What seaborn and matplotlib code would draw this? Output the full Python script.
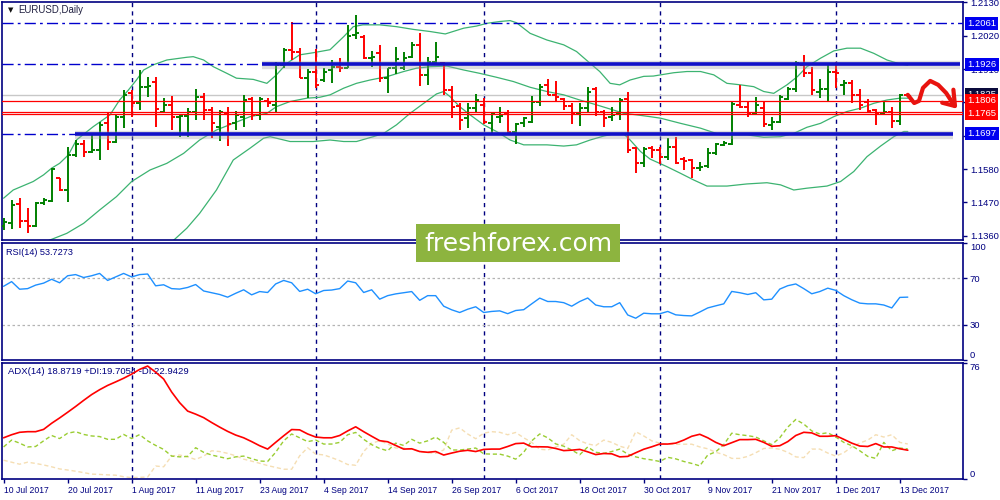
import numpy as np
import pandas as pd
import seaborn as sns
import matplotlib.pyplot as plt
from matplotlib import transforms

sns.set_style("white")
plt.rcParams['font.family'] = ['Liberation Sans', 'DejaVu Sans']

# daily EURUSD bars, 10 Jul 2017 .. 14 Dec 2017
opens = [1.1392, 1.1403, 1.1465, 1.1410, 1.1392, 1.1467, 1.1476, 1.1550, 1.1511, 1.1627,
         1.1663, 1.1638, 1.1643, 1.1731, 1.1671, 1.1753, 1.1830, 1.1797, 1.1850, 1.1869,
         1.1770, 1.1792, 1.1753, 1.1755, 1.1770, 1.1819, 1.1775, 1.1720, 1.1764, 1.1731,
         1.1753, 1.1810, 1.1758, 1.1806, 1.1792, 1.1923, 1.1973, 1.1967, 1.1880, 1.1902,
         1.1874, 1.1907, 1.1918, 1.1913, 1.2022, 1.2017, 1.1946, 1.1962, 1.1880, 1.1912,
         1.1912, 1.1949, 1.1990, 1.1890, 1.1934, 1.1931, 1.1841, 1.1788, 1.1748, 1.1780,
         1.1792, 1.1731, 1.1753, 1.1764, 1.1703, 1.1731, 1.1736, 1.1802, 1.1857, 1.1825,
         1.1810, 1.1788, 1.1764, 1.1780, 1.1843, 1.1769, 1.1752, 1.1764, 1.1810, 1.1648,
         1.1601, 1.1648, 1.1643, 1.1619, 1.1654, 1.1612, 1.1610, 1.1583, 1.1590, 1.1632,
         1.1660, 1.1663, 1.1792, 1.1786, 1.1766, 1.1781, 1.1726, 1.1737, 1.1810, 1.1843,
         1.1924, 1.1896, 1.1836, 1.1843, 1.1902, 1.1858, 1.1863, 1.1825, 1.1800, 1.1774,
         1.1762, 1.1770, 1.1740, 1.1826]
highs = [1.1418, 1.1478, 1.1484, 1.1451, 1.1473, 1.1484, 1.1583, 1.1552, 1.1654, 1.1676,
         1.1676, 1.1698, 1.1737, 1.1770, 1.1759, 1.1841, 1.1841, 1.1907, 1.1885, 1.1885,
         1.1814, 1.1821, 1.1759, 1.1781, 1.1843, 1.1832, 1.1786, 1.1775, 1.1784, 1.1772,
         1.1824, 1.1819, 1.1817, 1.1813, 1.1934, 1.1978, 1.2066, 1.1978, 1.1909, 1.1975,
         1.1912, 1.1940, 1.1945, 1.2055, 1.2088, 1.2022, 1.1971, 1.1989, 1.1912, 1.1982,
         1.1968, 1.2000, 1.2028, 1.1949, 1.1998, 1.1934, 1.1854, 1.1797, 1.1799, 1.1827,
         1.1813, 1.1766, 1.1784, 1.1775, 1.1733, 1.1753, 1.1821, 1.1861, 1.1876, 1.1872,
         1.1813, 1.1797, 1.1799, 1.1852, 1.1852, 1.1775, 1.1786, 1.1813, 1.1835, 1.1654,
         1.1652, 1.1656, 1.1654, 1.1681, 1.1685, 1.1619, 1.1612, 1.1605, 1.1649, 1.1665,
         1.1674, 1.1803, 1.1858, 1.1803, 1.1817, 1.1806, 1.1753, 1.1825, 1.1852, 1.1938,
         1.1957, 1.1918, 1.1876, 1.1924, 1.1935, 1.1874, 1.1874, 1.1843, 1.1810, 1.1777,
         1.1806, 1.1786, 1.1828, 1.1828]
lows = [1.1379, 1.1381, 1.1385, 1.1368, 1.1388, 1.1462, 1.1470, 1.1509, 1.1473, 1.1621,
        1.1621, 1.1632, 1.1610, 1.1643, 1.1665, 1.1715, 1.1753, 1.1775, 1.1819, 1.1720,
        1.1764, 1.1709, 1.1687, 1.1687, 1.1742, 1.1742, 1.1682, 1.1674, 1.1656, 1.1709,
        1.1720, 1.1742, 1.1742, 1.1786, 1.1766, 1.1912, 1.1940, 1.1879, 1.1813, 1.1846,
        1.1868, 1.1863, 1.1902, 1.1912, 1.2008, 1.1942, 1.1918, 1.1868, 1.1832, 1.1894,
        1.1907, 1.1946, 1.1854, 1.1858, 1.1929, 1.1825, 1.1748, 1.1709, 1.1715, 1.1770,
        1.1730, 1.1692, 1.1731, 1.1700, 1.1663, 1.1720, 1.1731, 1.1788, 1.1825, 1.1802,
        1.1775, 1.1729, 1.1722, 1.1764, 1.1755, 1.1720, 1.1740, 1.1742, 1.1634, 1.1568,
        1.1588, 1.1615, 1.1597, 1.1610, 1.1597, 1.1577, 1.1550, 1.1575, 1.1583, 1.1627,
        1.1656, 1.1660, 1.1781, 1.1751, 1.1762, 1.1720, 1.1709, 1.1731, 1.1808, 1.1836,
        1.1885, 1.1825, 1.1814, 1.1803, 1.1847, 1.1825, 1.1797, 1.1775, 1.1770, 1.1726,
        1.1758, 1.1715, 1.1726, 1.1820]
closes = [1.1405, 1.1462, 1.1409, 1.1392, 1.1467, 1.1478, 1.1579, 1.1511, 1.1627, 1.1663,
          1.1638, 1.1643, 1.1726, 1.1671, 1.1753, 1.1825, 1.1797, 1.1852, 1.1854, 1.1778,
          1.1792, 1.1753, 1.1755, 1.1770, 1.1819, 1.1775, 1.1731, 1.1770, 1.1730, 1.1758,
          1.1808, 1.1758, 1.1810, 1.1797, 1.1923, 1.1973, 1.1967, 1.1882, 1.1902, 1.1857,
          1.1902, 1.1918, 1.1913, 1.2019, 1.2030, 1.1946, 1.1951, 1.1880, 1.1912, 1.1942,
          1.1946, 1.1990, 1.1890, 1.1934, 1.1950, 1.1841, 1.1786, 1.1742, 1.1780, 1.1808,
          1.1735, 1.1762, 1.1755, 1.1703, 1.1729, 1.1747, 1.1802, 1.1852, 1.1825, 1.1817,
          1.1788, 1.1764, 1.1780, 1.1835, 1.1769, 1.1747, 1.1760, 1.1808, 1.1643, 1.1601,
          1.1647, 1.1643, 1.1619, 1.1652, 1.1601, 1.1607, 1.1583, 1.1588, 1.1632, 1.1663,
          1.1665, 1.1795, 1.1786, 1.1766, 1.1792, 1.1729, 1.1737, 1.1817, 1.1843, 1.1929,
          1.1896, 1.1841, 1.1843, 1.1902, 1.1896, 1.1863, 1.1825, 1.1792, 1.1772, 1.1765,
          1.1768, 1.1740, 1.1825, 1.1822]

# Bollinger bands (20), sampled along the drawn curves
upper_x = [0, 1.2, 3.7, 5, 6, 7, 8.1, 9.1, 11.2, 13.3, 14.5, 15.6, 16.6, 17.5, 18.7, 20.4,
           22.9, 23.7, 25, 26.2, 27.9, 29.1, 31.2, 32.9, 34.1, 35.4, 37, 38.7, 40.8, 42.5,
           43.7, 44.9, 47, 49.1, 51.2, 53.3, 55.2, 57.5, 59.1, 60.4, 62, 63.3, 64.1, 65.8,
           67.9, 70, 71.6, 73.3, 74.5, 75.8, 77, 78.3, 80, 81.2, 83.75, 85.4, 87.1, 88.75,
           90.4, 92.1, 93.75, 95, 96.25, 97.9, 99.2, 100.4, 102.1, 103.75, 105.4, 107.1,
           108.75, 110.4, 112, 113]
upper_y = [1.1484, 1.1511, 1.1539, 1.1561, 1.1583, 1.1599, 1.1627, 1.1676, 1.1720, 1.1759,
           1.1808, 1.1841, 1.1874, 1.1907, 1.1924, 1.1940, 1.1949, 1.1951, 1.1940, 1.1918,
           1.1896, 1.1880, 1.1876, 1.1863, 1.1891, 1.1929, 1.1957, 1.1964, 1.1974, 1.2017,
           1.2050, 1.2056, 1.2056, 1.2050, 1.2041, 1.2034, 1.2026, 1.2045, 1.2052, 1.2061,
           1.2067, 1.2070, 1.2063, 1.2028, 1.2006, 1.1990, 1.1968, 1.1929, 1.1902, 1.1863,
           1.1858, 1.1874, 1.1886, 1.1887, 1.1898, 1.1902, 1.1902, 1.1891, 1.1863, 1.1858,
           1.1852, 1.1836, 1.1830, 1.1858, 1.1885, 1.1918, 1.1946, 1.1970, 1.1979, 1.1979,
           1.1962, 1.1940, 1.1927, 1.1923]
middle_x = [5.6, 7.9, 10, 12, 14.1, 16, 18.3, 20.4, 22.5, 24.5, 26.6, 28.7, 30.8, 32.9, 34.1,
            35.8, 37.9, 39.5, 40.8, 42.5, 44.1, 45.8, 47.9, 50, 51.6, 53.3, 55.4, 57.5, 59.5,
            61.6, 63.7, 65.8, 67.9, 70, 72, 74.1, 76.2, 77.5, 79.1, 80.8, 82.1, 84.6, 87.1,
            89.6, 91.25, 92.9, 95, 97.1, 98.75, 100.4, 102.1, 103.75, 105.4, 107.1, 108.75,
            110.4, 112, 113]
middle_y = [1.1344, 1.1368, 1.1401, 1.1445, 1.1489, 1.1539, 1.1577, 1.1599, 1.1632, 1.1676,
            1.1709, 1.1731, 1.1753, 1.1764, 1.1786, 1.1803, 1.1814, 1.1817, 1.1825, 1.1847,
            1.1863, 1.1874, 1.1885, 1.1902, 1.1913, 1.1918, 1.1920, 1.1907, 1.1896, 1.1883,
            1.1869, 1.1850, 1.1836, 1.1825, 1.1808, 1.1792, 1.1775, 1.1764, 1.1759, 1.1753,
            1.1748, 1.1731, 1.1715, 1.1693, 1.1693, 1.1693, 1.1685, 1.1687, 1.1698, 1.1718,
            1.1731, 1.1753, 1.1770, 1.1781, 1.1797, 1.1808, 1.1814, 1.1814]
lower_x = [21.2, 22.9, 24.5, 26.6, 28.7, 30.8, 32.5, 33.3, 35.8, 38.7, 40.8, 42.5, 44.1, 46.2,
           47.5, 49.1, 50.8, 52.5, 54.1, 55, 55.8, 57, 58.3, 60, 61.6, 63.3, 65, 67.9, 70,
           71.6, 73.3, 75, 76.2, 77.5, 78.3, 79.6, 80.8, 82.9, 84.6, 86.25, 87.9, 90.4, 92.9,
           95.4, 97.1, 98.75, 100.4, 102.9, 104.6, 106.25, 107.9, 109.6, 111.25, 112.5, 113]
lower_y = [1.1344, 1.1385, 1.1434, 1.1511, 1.1610, 1.1649, 1.1682, 1.1687, 1.1671, 1.1671,
           1.1676, 1.1671, 1.1671, 1.1687, 1.1698, 1.1726, 1.1764, 1.1797, 1.1828, 1.1836,
           1.1819, 1.1786, 1.1759, 1.1726, 1.1704, 1.1676, 1.1660, 1.1660, 1.1656, 1.1660,
           1.1676, 1.1689, 1.1696, 1.1696, 1.1676, 1.1638, 1.1613, 1.1588, 1.1566, 1.1544,
           1.1524, 1.1524, 1.1531, 1.1535, 1.1528, 1.1511, 1.1517, 1.1524, 1.1539, 1.1572,
           1.1621, 1.1656, 1.1687, 1.1704, 1.1704]

rsi = [63, 67, 60.5, 61, 64, 65.7, 69, 66, 72, 73,
       70.5, 72, 74, 68, 71, 74, 71, 73, 73.5, 63.4,
       64.3, 61, 60.6, 62, 64.5, 59, 57.5, 56, 53.7, 57,
       60, 55.7, 58.5, 57.7, 65, 68, 66, 58.6, 60.5, 56.6,
       59.4, 59.8, 61, 67.5, 66, 57.7, 60, 52, 55, 56.5,
       57.5, 58.5, 51, 55, 55, 46, 42.9, 40.6, 43.4, 45.5,
       40.6, 41.5, 42, 39.6, 42.3, 43, 48, 52.9, 50, 50,
       49, 46, 50, 53, 47, 45.5, 45.5, 49, 38.5, 35.7,
       40, 39.5, 39.5, 41.5, 38.6, 38, 37.7, 41, 44.5, 46.3,
       48, 58.6, 57.5, 56, 57.5, 51.4, 52, 60.6, 63.5, 65,
       61, 56.6, 58.5, 61.4, 59.5, 55, 51.5, 48.6, 48, 48,
       47, 44.5, 53.5, 53.73]
adx = [27, 29, 30.6, 31, 31, 32.5, 36.5, 40, 43.7, 47.5,
       51.5, 55.3, 58.5, 61.3, 63.6, 66, 68.7, 71.8, 74, 70,
       65.5, 57, 50, 44.5, 42.5, 40.2, 37, 34, 31.2, 28.8,
       27, 24.5, 21.8, 19.6, 24, 28.3, 32.4, 32.2, 29.5, 27.5,
       27, 27, 28.5, 31.5, 34.2, 31, 28, 25.1, 24.4, 22,
       19.6, 19.8, 18, 17.5, 18, 15.7, 17, 18.2, 18.8, 18,
       19.4, 19.6, 19.6, 21.3, 23.2, 23.5, 21.1, 21.1, 21, 20,
       18.6, 18.9, 19.4, 17.8, 16, 16.7, 16.5, 14.5, 14.8, 17.2,
       19.5, 21.1, 22.9, 22.9, 23.5, 25.5, 28, 29.3, 27, 24,
       21.8, 23.8, 25.8, 25.8, 26, 24, 21.4, 21.8, 24.5, 28.5,
       30.6, 30.2, 28, 28, 28.4, 26, 23.5, 21.6, 21.3, 23.2,
       21, 21, 19.8, 18.87]
plus_di = [21, 25.5, 23.5, 21, 21.3, 25, 28.5, 26.5, 30, 31,
           29.2, 28.2, 27.8, 26, 26, 29.2, 26.5, 29.1, 25, 22,
           19.4, 15, 14.5, 14.8, 20.5, 17.5, 15.7, 14.5, 13.3, 14.5,
           15, 13.3, 11.8, 11.5, 17.5, 25, 29.5, 27, 24.5, 25.5,
           22.9, 22.9, 24, 29, 30.5, 26, 22.5, 20, 18.5, 23.5,
           22, 26, 23.5, 25, 27.5, 24, 19, 19, 19.6, 20.3,
           16.5, 16.3, 16.3, 15, 13, 17.5, 25, 29.5, 27, 23,
           21.5, 19, 15.9, 21, 17.5, 16.8, 18, 19.6, 16.3, 14.5,
           13.3, 12.5, 11.5, 14.2, 13.2, 11.5, 10.2, 8.6, 15.7, 17.8,
           22.5, 30, 29, 28.4, 27.5, 25, 22.5, 27, 34, 39,
           36, 31.5, 29.5, 30.3, 27.5, 24, 21.8, 18.5, 14.8, 13.5,
           24, 18.5, 20.3, 19.71]
minus_di = [12.3, 11, 9.7, 11, 10.2, 9.2, 8, 6.6, 5.9, 5.1,
            4.2, 3.2, 3, 2.7, 2.5, 1.5, 0.9, 1.1, 1.3, 8.5,
            8, 15, 15.7, 14.5, 12.8, 15, 18.5, 18, 16.8, 15.2,
            13, 11.7, 10.3, 8.8, 7.6, 6.4, 6.4, 15.2, 20.5, 16.3,
            15.8, 14, 12, 9.5, 9, 18, 23.5, 25, 23, 20.3,
            20.3, 19.5, 18, 17.2, 16.8, 19, 32, 33.5, 29.5, 26.4,
            30, 31, 30.6, 29, 30.5, 27, 24, 19.5, 19, 21,
            22.8, 29, 25.1, 23, 21.9, 25.5, 24, 21.5, 20, 31,
            28.2, 25, 23.5, 22.8, 22.7, 22.8, 22.8, 21, 19.8, 17.5,
            16, 13.5, 13.5, 14.8, 17.2, 20, 20.3, 19.5, 17.5, 14.5,
            14, 19.6, 19.6, 17, 15, 17.2, 21, 23.6, 25.5, 29,
            27.5, 29, 24, 22.94]

date_labels = ['10 Jul 2017', '20 Jul 2017', '1 Aug 2017', '11 Aug 2017', '23 Aug 2017',
               '4 Sep 2017', '14 Sep 2017', '26 Sep 2017', '6 Oct 2017', '18 Oct 2017',
               '30 Oct 2017', '9 Nov 2017', '21 Nov 2017', '1 Dec 2017', '13 Dec 2017']
label_bars = list(range(0, 113, 8))
month_bars = [16, 39, 60, 82, 104]
price_ticks = [1.2130, 1.2020, 1.1910, 1.1800, 1.1690, 1.1580, 1.1470, 1.1360]
# 1.1800 and 1.1690 sit under the level boxes, so only their tick marks show
price_tick_labels = ['1.2130', '1.2020', '1.1910', '', '', '1.1580', '1.1470', '1.1360']

level_top = 1.2061
level_res = 1.1926
level_sup = 1.1697
red_levels = [1.1806, 1.1768, 1.1761]
bid = 1.1825
res_start, sup_start = 32.3, 8.9
# hand-drawn arrow on the right of the last bar
doodle_x = [113.0, 113.8, 114.4, 114.9, 115.8, 116.8, 117.8, 118.8]
doodle_y = [1.1825, 1.1798, 1.1805, 1.1848, 1.1871, 1.1858, 1.1831, 1.1790]
head_x = [117.3, 118.9, 118.7]
head_y = [1.1799, 1.1788, 1.1842]

navy = '#000080'
bars = np.arange(len(closes))
df = pd.DataFrame({'bar': bars, 'open': opens, 'high': highs, 'low': lows, 'close': closes,
                   'rsi': rsi, 'adx': adx, 'pdi': plus_di, 'mdi': minus_di})
df['col'] = np.where(df['close'] >= df['open'], '#008000', '#FF0000')

fig = plt.figure(figsize=(10, 5), dpi=100)
fig.patch.set_facecolor('white')
ax = fig.add_axes([0.002, 0.52, 0.961, 0.476])
ax_rsi = fig.add_axes([0.002, 0.28, 0.961, 0.234])
ax_adx = fig.add_axes([0.002, 0.042, 0.961, 0.232])

for a in (ax, ax_rsi, ax_adx):
    a.set_xlim(-0.2, 119.9)
    a.set_facecolor('white')
    for s in a.spines.values():
        s.set_color(navy)
        s.set_linewidth(1.2)
    for m in month_bars:
        a.axvline(m, color=navy, lw=1, ls=(0, (3, 3)), zorder=1)
    a.yaxis.tick_right()
    a.tick_params(axis='y', direction='out', length=3, width=1, colors=navy,
                  labelsize=6.8, pad=2, right=True, left=False)
    a.tick_params(axis='x', bottom=False, labelbottom=False)

# --- price panel
ax.set_ylim(1.1346, 1.21314)
ax.axhline(bid, color='#C8C8C8', lw=1, zorder=1)
for b_x, b_y in ((upper_x, upper_y), (middle_x, middle_y), (lower_x, lower_y)):
    sns.lineplot(x=b_x, y=b_y, ax=ax, color='#3CB371', lw=0.9, zorder=2)
ax.vlines(df['bar'], df['low'], df['high'], colors=df['col'], lw=1.4, zorder=3)
ax.hlines(df['open'], df['bar'] - 0.45, df['bar'], colors=df['col'], lw=1.4, zorder=3)
ax.hlines(df['close'], df['bar'], df['bar'] + 0.45, colors=df['col'], lw=1.4, zorder=3)

dashdot = (0, (8, 3, 2, 3))
ax.axhline(level_top, color='#0000CD', lw=1, ls=dashdot, zorder=4)
ax.plot([-0.2, res_start], [level_res] * 2, color='#0000CD', lw=1, ls=dashdot, zorder=4)
ax.plot([-0.2, sup_start], [level_sup] * 2, color='#0000CD', lw=1, ls=dashdot, zorder=4)
for start, end, lvl in ((res_start, 119.5, level_res), (sup_start, 118.7, level_sup)):
    ax.plot([start, end], [lvl - 0.0004] * 2, color='#A0A0A0', lw=6, alpha=0.35,
            solid_capstyle='butt', zorder=4)
    ax.plot([start, end], [lvl] * 2, color='#1010C8', lw=2.6, solid_capstyle='butt', zorder=5)
for lvl in red_levels:
    ax.axhline(lvl, color='#FF0000', lw=0.9, zorder=4)

ax.plot(doodle_x, doodle_y, color='#E8130F', lw=3, solid_capstyle='round',
        solid_joinstyle='round', zorder=6)
ax.plot(head_x, head_y, color='#E8130F', lw=3, solid_capstyle='round', zorder=6)

ax.set_yticks(price_ticks)
ax.set_yticklabels(price_tick_labels)
ax.set_xticks([])

tr = transforms.blended_transform_factory(ax.transAxes, ax.transData)
boxes = [(bid, f'{bid:.4f}', '#0A0A3C'), (level_top, f'{level_top:.4f}', '#0000F0'),
         (level_res, f'{level_res:.4f}', '#0000F0'), (level_sup, f'{level_sup:.4f}', '#0000F0'),
         (red_levels[0], f'{red_levels[0]:.4f}', '#FF0000'), (1.1765, '1.1765', '#FF0000')]
for z, (val, txt, bg) in enumerate(boxes):
    ax.text(1.0045, val, txt, transform=tr, ha='left', va='center', fontsize=6.8,
            color='white', clip_on=False, zorder=10 + z,
            bbox=dict(boxstyle='square,pad=0.22', fc=bg, ec='none'))

ax.text(0.006, 0.965, '\u25BC', transform=ax.transAxes, fontsize=5, color='#101010',
        va='center', family='DejaVu Sans')
ax.text(0.017, 0.965, 'EURUSD,Daily', transform=ax.transAxes, fontsize=6.9,
        color='#202040', va='center')

# --- RSI panel
ax_rsi.set_ylim(0, 100)
for lvl in (30, 70):
    ax_rsi.axhline(lvl, color='#B4B4B4', lw=0.9, ls=(0, (2, 2)), zorder=1)
sns.lineplot(data=df, x='bar', y='rsi', ax=ax_rsi, color='#1E90FF', lw=1, zorder=3)
ax_rsi.set_yticks([0, 30, 70, 100])
ax_rsi.set_yticklabels(['0', '30', '70', '100'])
lbls = ax_rsi.get_yticklabels()
lbls[0].set_va('bottom')
lbls[-1].set_va('top')
ax_rsi.text(0.004, 0.923, 'RSI(14) 53.7273', transform=ax_rsi.transAxes, fontsize=6.6,
            color=navy, va='center')

# --- ADX panel
ax_adx.set_ylim(0, 76)
sns.lineplot(data=df, x='bar', y='mdi', ax=ax_adx, color='#F5DEB3', lw=1,
             linestyle=(0, (3, 2)), zorder=2)
sns.lineplot(data=df, x='bar', y='pdi', ax=ax_adx, color='#9ACD32', lw=1,
             linestyle=(0, (3, 2)), zorder=3)
sns.lineplot(data=df, x='bar', y='adx', ax=ax_adx, color='#FF0000', lw=1.2, zorder=4)
ax_adx.set_yticks([0, 76])
ax_adx.set_yticklabels(['0', '76'])
lbls = ax_adx.get_yticklabels()
lbls[0].set_va('bottom')
lbls[-1].set_va('top')
ax_adx.text(0.006, 0.93, 'ADX(14) 18.8719 +DI:19.7054 -DI:22.9429', transform=ax_adx.transAxes,
            fontsize=6.8, color=navy, va='center')
ax_adx.set_xticks(label_bars)
ax_adx.set_xticklabels(date_labels, ha='left', fontsize=6.2)
ax_adx.tick_params(axis='x', bottom=True, labelbottom=True, direction='out', length=3,
                   width=1, colors=navy, pad=2)

for a in (ax, ax_rsi, ax_adx):
    a.set_xlabel('')
    a.set_ylabel('')
    if a.get_legend():
        a.get_legend().remove()

# watermark box
logo = fig.add_axes([0.416, 0.476, 0.204, 0.076])
logo.set_facecolor('#8DB43F')
logo.set_xticks([])
logo.set_yticks([])
for s in logo.spines.values():
    s.set_visible(False)
logo.text(0.5, 0.48, 'freshforex.com', ha='center', va='center', fontsize=18,
          color='white', family='DejaVu Sans', transform=logo.transAxes)

fig.savefig('out.png', dpi=100)
